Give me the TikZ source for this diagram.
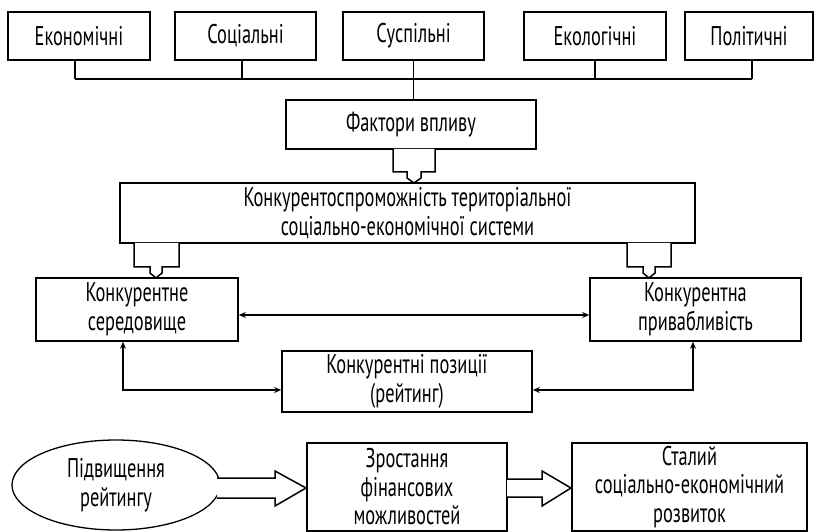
\documentclass[tikz,border=0pt]{standalone}
\usepackage{fontspec}
\setmainfont[FakeStretch=0.68]{PT Sans}
\usetikzlibrary{shapes.geometric,arrows.meta,calc}
\begin{document}
\begin{tikzpicture}[x=1pt,y=-1pt,
  box/.style={draw, line width=1.6pt, align=center, inner sep=0pt,
    font=\fontsize{27}{28.5}\selectfont},
  conn/.style={line width=1.3pt},
  arr/.style={line width=1.3pt, {Stealth[length=7pt,width=6pt]}-{Stealth[length=7pt,width=6pt]}},
  hollow/.style={line width=1.5pt, fill=white, line join=miter}]
\useasboundingbox (0,0) rectangle (823,532);
% top row
\node[box, minimum width=142pt, minimum height=48pt] (e1) at (79,36) {Економічні};
\node[box, minimum width=141pt, minimum height=48pt] (e2) at (245.5,36) {Соціальні};
\node[box, minimum width=141pt, minimum height=48pt] (e3) at (413.5,36) {Суспільні};
\node[box, minimum width=142pt, minimum height=48pt] (e4) at (595,36) {Екологічні};
\node[box, minimum width=128pt, minimum height=48pt] (e5) at (749,36) {Політичні};
\node[box, minimum width=250pt, minimum height=49pt] (fact) at (411,124.5) {Фактори впливу};
\node[box, minimum width=575pt, minimum height=60pt] (konk) at (407.5,213) {Конкурентоспроможність територіальної\\соціально-економічної системи};
\node[box, minimum width=202pt, minimum height=63pt] (ser) at (137,309.5) {Конкурентне\\середовище};
\node[box, minimum width=211pt, minimum height=63pt] (pryv) at (695.5,309.5) {Конкурентна\\привабливість};
\node[box, minimum width=250pt, minimum height=61pt] (poz) at (407,381.5) {Конкурентні позиції\\(рейтинг)};
\node[box, line width=1.3pt, ellipse, minimum width=208pt, minimum height=90pt] (ell) at (116,485) {Підвищення\\рейтингу};
\node[box, minimum width=200pt, minimum height=88pt] (zros) at (407,487) {Зростання\\фінансових\\можливостей};
\node[box, minimum width=235pt, minimum height=88pt] (stal) at (689.5,487) {Сталий\\соціально-економічний\\розвиток};
% bus
\coordinate (busL) at (75,79);
\coordinate (busR) at (752,79);
\draw[conn] ([xshift=-4pt]e1.south) -- ([xshift=-4pt]e1.south |- busL);
\draw[conn] ([xshift=-3.5pt]e2.south) -- ([xshift=-3.5pt]e2.south |- busL);
\draw[conn] (e4.south) -- (e4.south |- busL);
\draw[conn] ([xshift=3pt]e5.south) -- ([xshift=3pt]e5.south |- busL);
\draw[conn] (busL) -- (busR);
\draw[conn] (e3.south) -- (e3.south |- fact.north);
% notched hollow arrows
\draw[hollow] (393,149) -- (393,172) -- (407,172) -- (407,178) -- (414,183) -- (421,178) -- (421,172) -- (435,172) -- (435,149);
\draw[hollow] (134,243) -- (134,267) -- (150,267) -- (150,273) -- (156,278) -- (162,273) -- (162,267) -- (179,267) -- (179,243);
\draw[hollow] (627,243) -- (627,267) -- (643,267) -- (643,273) -- (649,278) -- (655,273) -- (655,267) -- (671,267) -- (671,243);
% double arrows
\draw[arr] ([yshift=-5.5pt]ser.east) -- ([yshift=-5.5pt]pryv.west);
\draw[arr] ([xshift=-14pt]ser.south) |- ([yshift=-8.5pt]poz.west);
\draw[arr] ([xshift=-2.5pt]pryv.south) |- ([yshift=-8.5pt]poz.east);
% block arrows
\draw[hollow] (217,478) -- (275,478) -- (275,471) -- (306,488) -- (275,506) -- (275,498) -- (217,498);
\draw[hollow] (507,479) -- (542,479) -- (542,471) -- (571,488) -- (542,506) -- (542,497) -- (507,497);
\end{tikzpicture}
\end{document}
